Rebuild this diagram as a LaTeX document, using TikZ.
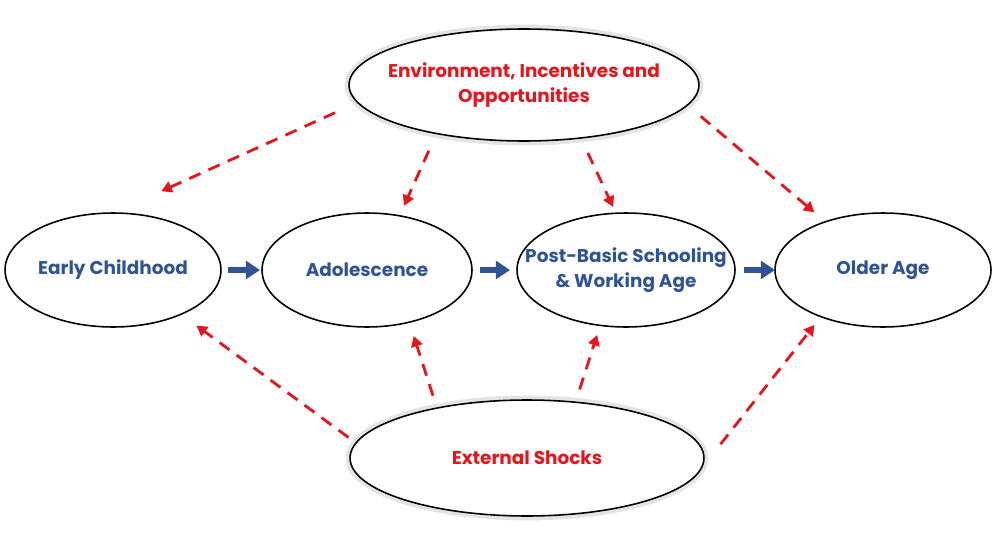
\documentclass[tikz,border=0pt]{standalone}
\usepackage{fontspec}
\setmainfont{Poppins}
\usepackage{tikz}
\usetikzlibrary{shapes.geometric, arrows.meta}
\definecolor{lcBlue}{HTML}{2F5496}
\definecolor{lcRed}{HTML}{E8141B}
\definecolor{lcGlow}{HTML}{E4E4E4}
\tikzset{
  stage/.style={ellipse, draw=black, line width=0.9pt, fill=white, outer sep=0pt,
                inner sep=-0.6cm, align=center, text=lcBlue,
                font=\fontsize{10.5}{14.5}\selectfont\bfseries,
                minimum width=4.32cm, minimum height=2.28cm},
  context/.style={stage, text=lcRed, preaction={draw=lcGlow, line width=5pt}},
  flow/.style={draw=lcBlue, line width=3.2pt, -{Triangle[length=8pt, width=10pt]}},
  influence/.style={draw=lcRed, line width=1.6pt, dash pattern=on 7pt off 5pt,
                    -{Triangle[length=6pt, width=6.5pt]}},
}
\begin{document}
\begin{tikzpicture}[x=0.02cm, y=-0.02cm]
\useasboundingbox (0,0) rectangle (997,541);
\node[context, minimum width=7cm, minimum height=2.24cm] (env) at (524,85) {Environment, Incentives and\\Opportunities};
\node[stage] (early) at (113,270) {Early Childhood};
\node[stage, minimum width=4.2cm] (adol) at (367,270) {Adolescence};
\node[stage, minimum width=4.36cm] (post) at (626,270) {Post-Basic Schooling\\\& Working Age};
\node[stage] (older) at (883,270) {Older Age};
\node[context, minimum width=7.08cm, minimum height=2.32cm] (shocks) at (527,458) {External Shocks};

\draw[flow, shorten <=0.14cm, shorten >=0.04cm] (early) -- (adol);
\draw[flow, shorten <=0.16cm, shorten >=0.14cm] (adol) -- (post);
\draw[flow, shorten <=0.18cm] (post) -- (older);

\draw[influence, shorten <=0.5cm, shorten >=1.06cm] (env.186) -- (early.90);
\draw[influence, shorten <=0.38cm, shorten >=0.22cm] (env.209.6) -- (adol.59.1);
\draw[influence, shorten <=0.33cm, shorten >=0.14cm] (env.317.1) -- (post.100.1);
\draw[influence, shorten <=0.35cm, shorten >=0.29cm] (env.353.7) -- (older.140.2);

\draw[influence, shorten <=0.19cm, shorten >=0.38cm] (shocks.175.6) -- (early.327.7);
\draw[influence, shorten <=0.26cm, shorten >=0.29cm] (shocks.151.4) -- (adol.309.4);
\draw[influence, shorten <=0.27cm, shorten >=0.2cm] (shocks.49.6) -- (post.245);
\draw[influence, shorten <=0.66cm, shorten >=0.21cm] (shocks.356.8) -- (older.217.3);
\end{tikzpicture}
\end{document}
